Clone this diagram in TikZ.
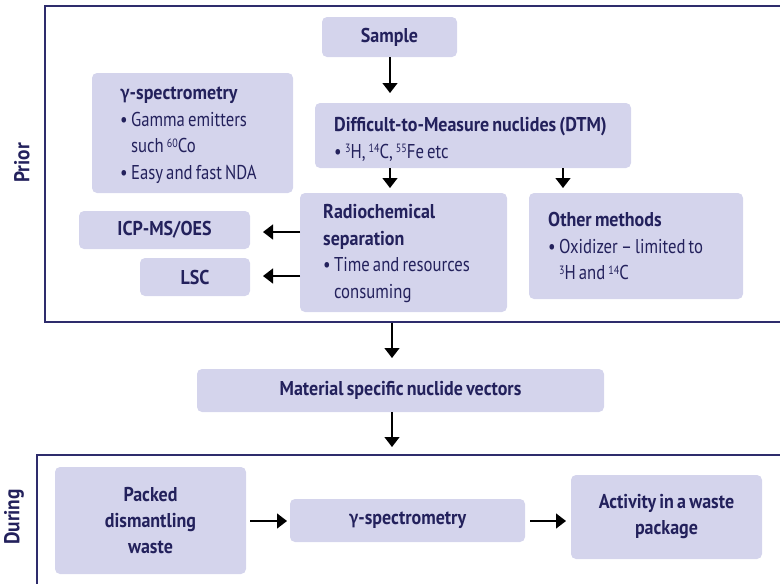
\documentclass[tikz,border=0pt]{standalone}
\usepackage{fontspec}
\setmainfont{PT Sans}[FakeStretch=0.835, WordSpace=0.7, BoldFeatures={FakeStretch=0.9}]
\newfontfamily\gfont{Lato}[FakeStretch=0.85]
\newcommand{\gam}{{\gfont γ}}
\newcommand{\sups}[1]{\raisebox{5.5pt}{\fontsize{12}{12}\selectfont #1}}
\usetikzlibrary{arrows.meta,calc}
\definecolor{boxfill}{HTML}{D4D4EC}
\definecolor{navy}{HTML}{23215C}
\definecolor{frameline}{HTML}{2E2C6C}
\begin{document}
\begin{tikzpicture}[x=1pt,y=-1pt,
  every node/.style={font=\fontsize{20}{26.5}\selectfont, text=navy},
  box/.style={fill=boxfill, rounded corners=5pt, inner sep=0pt, outer sep=0pt},
  cbox/.style={box, align=center, font=\fontsize{20}{26}\selectfont\bfseries},
  txt/.style={align=left, anchor=west, inner sep=0pt},
  arr/.style={draw=black, line width=1.3pt, -{Triangle[width=15pt,length=10pt]}},
  frame/.style={draw=frameline, line width=1.6pt},
  side/.style={rotate=90, font=\fontsize{21.5}{26}\selectfont\bfseries}]
\useasboundingbox (0,0) rectangle (780,584);
% frames
\node[frame, minimum width=800pt, minimum height=316pt, anchor=north west, inner sep=0pt] (prior) at (44,5) {};
\node[frame, minimum width=800pt, minimum height=200pt, anchor=north west, inner sep=0pt] (during) at (36,454) {};
\node[side] (priorlbl) at (22,163) {Prior};
\node[side] (duringlbl) at (14,517) {During};
% prior boxes
\node[cbox, minimum width=135pt, minimum height=40pt] (sample) at (389.5,37) {Sample};
\node[box, minimum width=316pt, minimum height=65pt] (dtm) at (473,135.5) {};
\node[txt] (dtmt) at ([xshift=19pt,yshift=-4pt]dtm.west)
  {\textbf{Difficult-to-Measure nuclides (DTM)}\\ •\,\sups{3}H, \sups{14}C, \sups{55}Fe etc};
\node[box, minimum width=201pt, minimum height=120pt] (gspec) at (192.5,133) {};
\node[txt] (gspect) at ([xshift=28pt,yshift=-2pt]gspec.west)
  {\textbf{\gam-spectrometry}\\ •\,Gamma emitters\\ \phantom{•\,}such \sups{60}Co\\ •\,Easy and fast NDA};
\node[box, minimum width=207pt, minimum height=119pt] (radio) at (403.5,252.5) {};
\node[txt] (radiot) at ([xshift=23pt,yshift=-1pt]radio.west)
  {\textbf{Radiochemical}\\ \textbf{separation}\\ •\,Time and resources\\ \phantom{•\,}consuming};
\node[box, minimum width=214pt, minimum height=106pt] (other) at (636,246) {};
\node[txt] (othert) at ([xshift=19pt]other.west)
  {\textbf{Other methods}\\ •\,Oxidizer – limited to\\ \phantom{•\,}\sups{3}H and \sups{14}C};
\node[cbox, minimum width=171pt, minimum height=38pt] (icp) at (164.5,230) {ICP-MS/OES};
\node[cbox, minimum width=110pt, minimum height=38pt] (lsc) at (195,277) {LSC};
% middle
\node[cbox, minimum width=407pt, minimum height=43pt] (material) at (400.5,390.5) {Material specific nuclide vectors};
% during boxes
\node[cbox, minimum width=191pt, minimum height=107pt] (packed) at (150.5,520.5) {Packed\\ dismantling\\ waste};
\node[cbox, minimum width=235pt, minimum height=43pt] (gspec2) at (407.5,520.5) {\gam-spectrometry};
\node[cbox, minimum width=191pt, minimum height=84pt] (activity) at (666.5,517) {Activity in a waste\\ package};
% connectors
\coordinate (ax) at (392,0);
\coordinate (bx) at (390,0);
\coordinate (cx) at (563,0);
\draw[arr, shorten >=10pt] (sample.south -| bx) -- (dtm.north -| bx);
\draw[arr, shorten >=5pt] (dtm.south -| bx) -- (radio.north -| bx);
\draw[arr, shorten >=5pt] (dtm.south -| cx) -- (other.north -| cx);
\draw[arr, shorten >=13pt] (radio.west |- 0,232) -- (icp.east |- 0,232);
\draw[arr, shorten >=13pt] (radio.west |- 0,276) -- (lsc.east |- 0,276);
\draw[arr, shorten >=11pt] (prior.south -| ax) -- (material.north -| ax);
\draw[arr, shorten >=7pt] (material.south -| ax) -- (during.north -| ax);
\draw[arr, shorten <=4pt, shorten >=3pt] (packed.east |- 0,521) -- (gspec2.west |- 0,521);
\draw[arr, shorten <=5pt, shorten >=5pt] (gspec2.east |- 0,521) -- (activity.west |- 0,521);
\end{tikzpicture}
\end{document}
